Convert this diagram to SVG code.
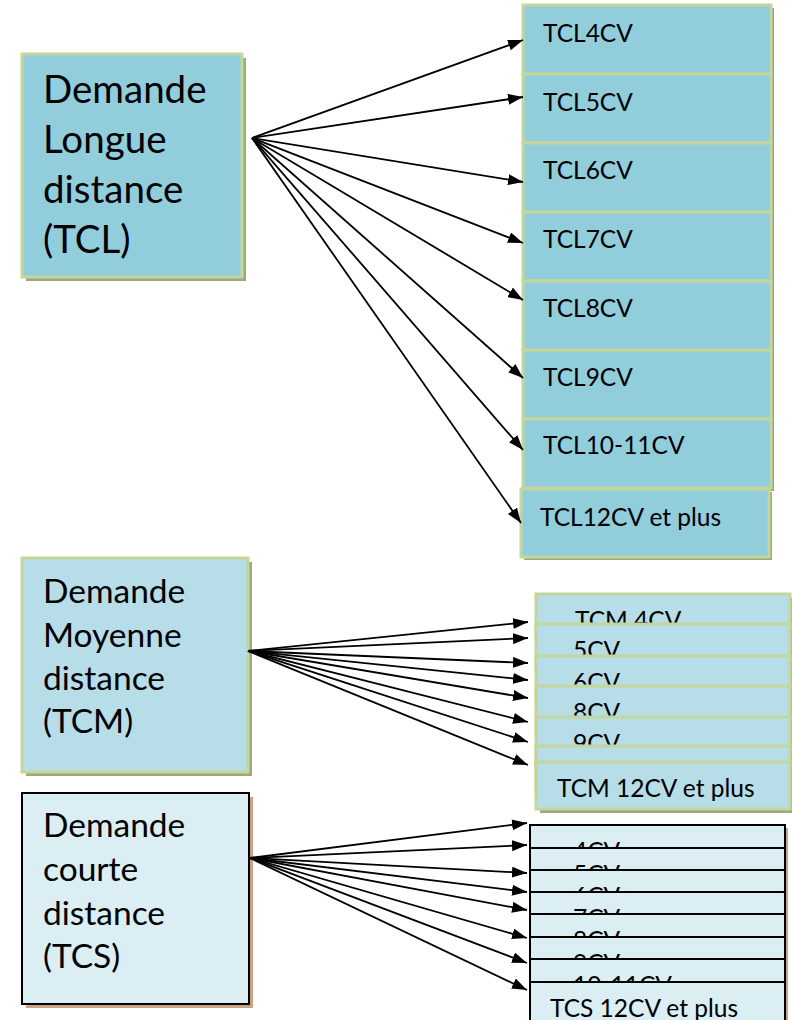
<svg xmlns="http://www.w3.org/2000/svg" width="792" height="1020" viewBox="0 0 792 1020">
<defs>
<marker id="ah" markerWidth="15" markerHeight="11" refX="15" refY="5.5" orient="auto" markerUnits="userSpaceOnUse"><path d="M0,0 L15,5.5 L0,11 z" fill="#000"/></marker>
<style>
text{font-family:Lato,"Open Sans","Liberation Sans",sans-serif;fill:#000}
.big{font-size:38.5px}
.mid{font-size:33.5px}
.sm{font-size:24.5px}
.lf{fill:#92CDDC;stroke:#C3D69B;stroke-width:3}
.mf{fill:#B7DDE8;stroke:#C3D69B;stroke-width:3}
.sf{fill:#DAEEF3;stroke:#000;stroke-width:2}
.gsh{fill:#A0A780}
.bsh{fill:#C9A384}
.conn line{stroke:#000;stroke-width:1.8;marker-end:url(#ah)}
</style>
</defs>
<rect width="792" height="1020" fill="#fff"/>

<g id="tcl">
<rect class="gsh" x="26" y="58" width="220" height="223"/>
<rect class="lf" x="22" y="54" width="220" height="223"/>
<text class="big" x="43" y="103">Demande</text>
<text class="big" x="43" y="153">Longue</text>
<text class="big" x="43" y="203">distance</text>
<text class="big" x="43" y="253">(TCL)</text>
</g>

<g id="tcl4"><rect class="gsh" x="526" y="8" width="248" height="69"/><rect class="lf" x="523" y="5" width="248" height="69"/><text class="sm" x="543" y="42">TCL4CV</text></g>
<g id="tcl5"><rect class="gsh" x="526" y="77" width="248" height="69"/><rect class="lf" x="523" y="74" width="248" height="69"/><text class="sm" x="543" y="111">TCL5CV</text></g>
<g id="tcl6"><rect class="gsh" x="526" y="146" width="248" height="69"/><rect class="lf" x="523" y="143" width="248" height="69"/><text class="sm" x="543" y="179">TCL6CV</text></g>
<g id="tcl7"><rect class="gsh" x="526" y="215" width="248" height="69"/><rect class="lf" x="523" y="212" width="248" height="69"/><text class="sm" x="543" y="248">TCL7CV</text></g>
<g id="tcl8"><rect class="gsh" x="526" y="284" width="248" height="69"/><rect class="lf" x="523" y="281" width="248" height="69"/><text class="sm" x="543" y="317">TCL8CV</text></g>
<g id="tcl9"><rect class="gsh" x="526" y="353" width="248" height="69"/><rect class="lf" x="523" y="350" width="248" height="69"/><text class="sm" x="543" y="386">TCL9CV</text></g>
<g id="tcl10"><rect class="gsh" x="526" y="422" width="248" height="69"/><rect class="lf" x="523" y="419" width="248" height="69"/><text class="sm" x="543" y="454">TCL10-11CV</text></g>
<g id="tcl12"><rect class="gsh" x="524" y="492" width="248" height="68"/><rect class="lf" x="521" y="489" width="248" height="68"/><text class="sm" x="540" y="526">TCL12CV et plus</text></g>

<g id="tcm">
<rect class="gsh" x="26" y="562" width="226" height="214"/>
<rect class="mf" x="22" y="558" width="226" height="214"/>
<text class="mid" x="43" y="603">Demande</text>
<text class="mid" x="43" y="647">Moyenne</text>
<text class="mid" x="43" y="690">distance</text>
<text class="mid" x="43" y="733">(TCM)</text>
</g>

<g id="tcm4"><rect class="gsh" x="540" y="598" width="254" height="47"/><rect class="mf" x="536" y="594" width="254" height="47"/><text class="sm" x="575" y="629">TCM 4CV</text></g>
<g id="tcm5"><rect class="gsh" x="540" y="628" width="254" height="47"/><rect class="mf" x="536" y="624" width="254" height="47"/><text class="sm" x="573" y="659">5CV</text></g>
<g id="tcm6"><rect class="gsh" x="540" y="660" width="254" height="47"/><rect class="mf" x="536" y="656" width="254" height="47"/><text class="sm" x="573" y="691">6CV</text></g>
<g id="tcm8"><rect class="gsh" x="540" y="690" width="254" height="47"/><rect class="mf" x="536" y="686" width="254" height="47"/><text class="sm" x="573" y="721">8CV</text></g>
<g id="tcm9"><rect class="gsh" x="540" y="721" width="254" height="47"/><rect class="mf" x="536" y="717" width="254" height="47"/><text class="sm" x="573" y="752">9CV</text></g>
<g id="tcm10"><rect class="gsh" x="540" y="750" width="254" height="47"/><rect class="mf" x="536" y="746" width="254" height="47"/></g>
<g id="tcm12"><rect class="gsh" x="540" y="766" width="254" height="47"/><rect class="mf" x="536" y="762" width="254" height="47"/><text class="sm" x="557" y="797">TCM 12CV et plus</text></g>

<g id="tcs">
<rect class="bsh" x="26" y="797" width="227" height="211"/>
<rect class="sf" x="22" y="793" width="227" height="211"/>
<text class="mid" x="43" y="837">Demande</text>
<text class="mid" x="43" y="881">courte</text>
<text class="mid" x="43" y="925">distance</text>
<text class="mid" x="43" y="968">(TCS)</text>
</g>

<g id="tcs4"><rect class="bsh" x="533" y="828" width="255" height="45"/><rect class="sf" x="530" y="825" width="255" height="45"/><text class="sm" x="573" y="860">4CV</text></g>
<g id="tcs5"><rect class="bsh" x="533" y="851" width="255" height="45"/><rect class="sf" x="530" y="848" width="255" height="45"/><text class="sm" x="573" y="883">5CV</text></g>
<g id="tcs6"><rect class="bsh" x="533" y="873" width="255" height="45"/><rect class="sf" x="530" y="870" width="255" height="45"/><text class="sm" x="573" y="905">6CV</text></g>
<g id="tcs7"><rect class="bsh" x="533" y="895" width="255" height="45"/><rect class="sf" x="530" y="892" width="255" height="45"/><text class="sm" x="573" y="927">7CV</text></g>
<g id="tcs8"><rect class="bsh" x="533" y="917" width="255" height="45"/><rect class="sf" x="530" y="914" width="255" height="45"/><text class="sm" x="573" y="949">8CV</text></g>
<g id="tcs9"><rect class="bsh" x="533" y="940" width="255" height="45"/><rect class="sf" x="530" y="937" width="255" height="45"/><text class="sm" x="573" y="972">9CV</text></g>
<g id="tcs10"><rect class="bsh" x="533" y="962" width="255" height="45"/><rect class="sf" x="530" y="959" width="255" height="45"/><text class="sm" x="573" y="994">10-11CV</text></g>
<g id="tcs12"><rect class="bsh" x="533" y="985" width="255" height="40"/><rect class="sf" x="530" y="982" width="255" height="40"/><text class="sm" x="550" y="1017">TCS 12CV et plus</text></g>

<g id="connectors" class="conn">
<line x1="252" y1="138" x2="523" y2="40"/>
<line x1="252" y1="138" x2="523" y2="97"/>
<line x1="252" y1="138" x2="523" y2="182"/>
<line x1="252" y1="138" x2="523" y2="243"/>
<line x1="252" y1="138" x2="523" y2="300"/>
<line x1="252" y1="138" x2="523" y2="378"/>
<line x1="252" y1="138" x2="523" y2="450"/>
<line x1="252" y1="138" x2="521" y2="523"/>
<line x1="248" y1="651" x2="528" y2="622"/>
<line x1="248" y1="651" x2="528" y2="638"/>
<line x1="248" y1="651" x2="528" y2="663"/>
<line x1="248" y1="651" x2="528" y2="680"/>
<line x1="248" y1="651" x2="528" y2="698"/>
<line x1="248" y1="651" x2="528" y2="722"/>
<line x1="248" y1="651" x2="528" y2="742"/>
<line x1="248" y1="651" x2="528" y2="765"/>
<line x1="250" y1="858" x2="527" y2="823"/>
<line x1="250" y1="858" x2="527" y2="845"/>
<line x1="250" y1="858" x2="527" y2="873"/>
<line x1="250" y1="858" x2="527" y2="892"/>
<line x1="250" y1="858" x2="527" y2="910"/>
<line x1="250" y1="858" x2="527" y2="938"/>
<line x1="250" y1="858" x2="527" y2="963"/>
<line x1="250" y1="858" x2="527" y2="990"/>
</g>
</svg>
